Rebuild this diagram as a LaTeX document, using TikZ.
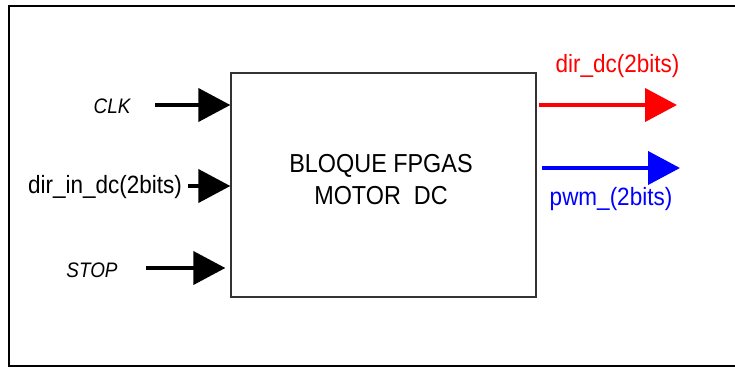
\documentclass[tikz,border=0pt]{standalone}
\usepackage{fontspec}
\setmainfont[FakeStretch=0.9]{Liberation Sans}
\usetikzlibrary{arrows.meta}

\tikzset{
  sig/.style={line width=4pt,-{Triangle[length=32pt,width=33pt]}},
  lbl/.style={inner sep=0pt,anchor=base,font=\fontsize{25}{30}\selectfont},
  pin/.style={inner sep=0pt,anchor=base,font=\fontsize{21}{25}\selectfont\itshape},
}

\begin{document}
\begin{tikzpicture}[x=1pt,y=-1pt]
      \useasboundingbox (0,0) rectangle (735,367);
      % frame, open on the right
      \draw[line width=2pt] (760,6) -- (9,6) -- (9,366) -- (760,366);
      % block
      \node[draw=black!80,line width=1.3pt,minimum width=305pt,minimum height=224pt,inner sep=0pt] (fpga) at (383.5,185) {};
      \node[align=center,font=\fontsize{26}{32}\selectfont] (title) at (381,180) {BLOQUE FPGAS\\MOTOR\ \ DC};
      % inputs
      \node[pin] (clk) at (112,113) {CLK};
      \node[lbl] (dirin) at (105,193) {dir\_in\_dc(2bits)};
      \node[pin] (stop) at (92,277) {STOP};
      \coordinate (clk-s) at (155,105);
      \coordinate (dirin-s) at (188,186);
      \coordinate (stop-s) at (146,268);
      \draw[sig] (clk-s) -- (clk-s -| fpga.west);
      \draw[sig] (dirin-s) -- (dirin-s -| fpga.west);
      \draw[sig,shorten >=5pt] (stop-s) -- (stop-s -| fpga.west);
      % outputs
      \coordinate (dir-e) at (677,105);
      \coordinate (pwm-e) at (680,168);
      \draw[sig,red,shorten <=2pt] (fpga.east |- dir-e) -- (dir-e);
      \draw[sig,blue,shorten <=5pt] (fpga.east |- pwm-e) -- (pwm-e);
      \node[lbl,red] (dirout) at (617.5,72) {dir\_dc(2bits)};
      \node[lbl,blue] (pwm) at (611,205) {pwm\_(2bits)};
\end{tikzpicture}
\end{document}
